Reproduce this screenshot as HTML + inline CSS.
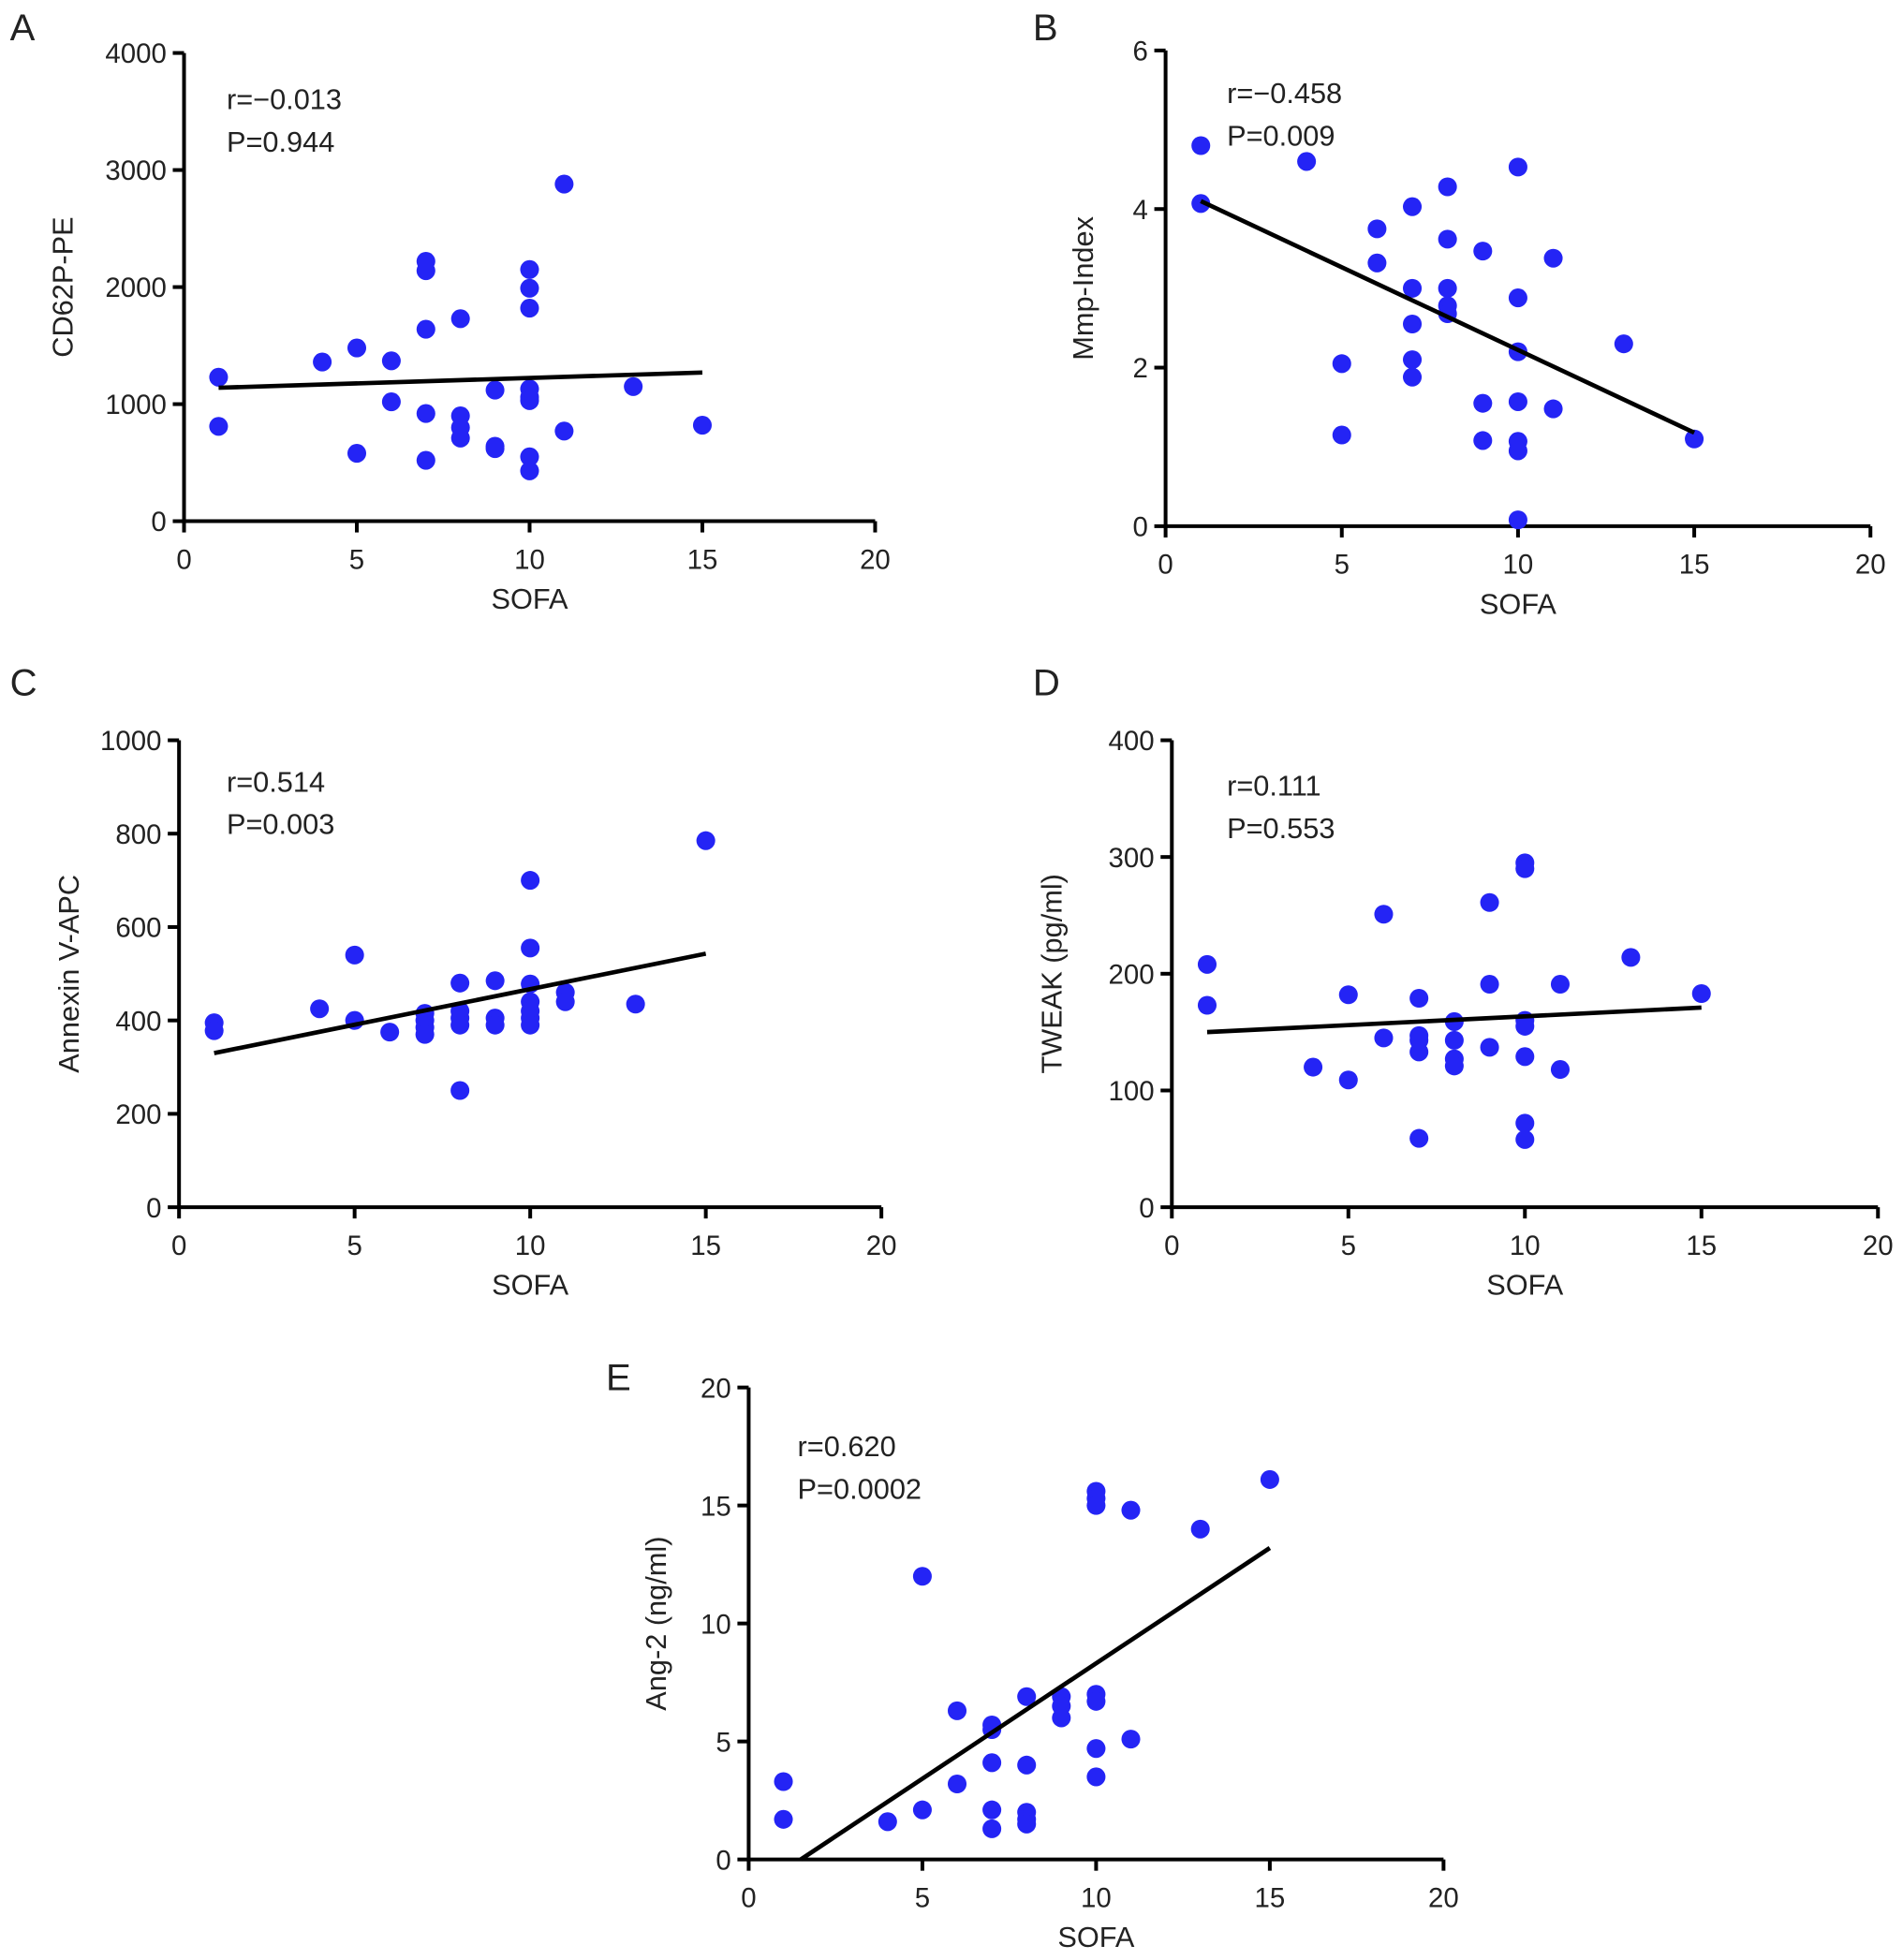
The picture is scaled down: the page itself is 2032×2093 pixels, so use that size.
<!DOCTYPE html>
<html><head><meta charset="utf-8">
<style>
html,body{margin:0;padding:0;background:#fff;}
svg{display:block;}
text{font-family:"Liberation Sans",Arial,sans-serif;fill:#222;}
</style></head>
<body>
<svg id="chart" width="2032" height="2093" viewBox="0 0 1520 1565" xmlns="http://www.w3.org/2000/svg"></svg>
<script>
// Panel A data
const aX=[1,1,4,5,5,6,6,7,7,7,7,7,8,8,8,8,9,9,9,10,10,10,10,10,10,10,10,11,11,13,15];
const aY=[1230,810,1360,1480,580,1370,1020,2220,2140,1640,920,520,1730,900,800,710,1120,640,620,2150,1990,1820,1130,1060,1030,550,430,2880,770,1150,820];
const aLine=[[1,1140],[15,1270]];
const aTicks=[0,1000,2000,3000,4000];
// Panel B data
const bX=[1,1,4,5,5,6,6,7,7,7,7,7,8,8,8,8,8,9,9,9,10,10,10,10,10,10,10,11,11,13,15];
const bY=[4.8,4.07,4.6,2.05,1.15,3.75,3.32,4.03,3.0,2.55,2.1,1.88,4.28,3.62,3.0,2.78,2.68,3.47,1.55,1.08,4.53,2.88,2.2,1.57,1.07,0.95,0.08,3.38,1.48,2.3,1.1];
const bLine=[[1,4.1],[15,1.18]];
const bTicks=[0,2,4,6];
// Panel C data
const cX=[1,1,4,5,5,6,7,7,7,7,8,8,8,8,8,9,9,9,10,10,10,10,10,10,10,11,11,13,15];
const cY=[395,378,425,540,400,375,415,400,385,370,480,420,405,390,250,485,405,390,700,555,478,440,420,405,390,460,440,435,785];
const cLine=[[1,330],[15,543]];
const cTicks=[0,200,400,600,800,1000];
// Panel D data
const dX=[1,1,4,5,5,6,6,7,7,7,7,7,8,8,8,8,9,9,9,10,10,10,10,10,10,10,11,11,13,15];
const dY=[208,173,120,182,109,251,145,179,147,143,133,59,159,143,127,121,261,191,137,295,290,160,155,129,72,58,191,118,214,183];
const dLine=[[1,150],[15,171]];
const dTicks=[0,100,200,300,400];
// Panel E data
const eX=[1,1,4,5,5,6,6,7,7,7,7,7,8,8,8,8,8,9,9,9,10,10,10,10,10,10,10,11,11,13,15];
const eY=[3.3,1.7,1.6,12,2.1,6.3,3.2,5.7,5.5,4.1,2.1,1.3,6.9,4.0,2.0,1.7,1.5,6.9,6.5,6.0,15.6,15.3,15.0,7.0,6.7,4.7,3.5,14.8,5.1,14.0,16.1];
const eLine=[[1.5,0],[15,13.2]];
const eTicks=[0,5,10,15,20];
const xTicks=[0,5,10,15,20];

const NS="http://www.w3.org/2000/svg";
const svg=document.getElementById('chart');
function mk(tag,attrs,parent){const e=document.createElementNS(NS,tag);for(const k in attrs)e.setAttribute(k,attrs[k]);(parent||svg).appendChild(e);return e;}

function panel(id,cfg,xs,ys,line,yTicks){
  const g=mk('g',{});
  
  
  const x=v=>cfg.x0+(cfg.x1-cfg.x0)*v/20;
  const y=v=>cfg.y0-(cfg.y0-cfg.y1)*v/cfg.ymax;
  const ax=mk('path',{d:`M${cfg.x0},${cfg.y1} L${cfg.x0},${cfg.y0} L${cfg.x1},${cfg.y0}`,stroke:'#000','stroke-width':3,fill:'none'},g);
  
  
  xTicks.forEach(t=>{
    mk('line',{x1:x(t),x2:x(t),y1:cfg.y0,y2:cfg.y0+9,stroke:'#000','stroke-width':3},g);
    const tx=mk('text',{x:x(t),y:cfg.y0+38,'text-anchor':'middle','font-size':22},g);tx.textContent=t;
    
    
  });
  yTicks.forEach(t=>{
    mk('line',{x1:cfg.x0-9,x2:cfg.x0,y1:y(t),y2:y(t),stroke:'#000','stroke-width':3},g);
    const tx=mk('text',{x:cfg.x0-14,y:y(t)+8,'text-anchor':'end','font-size':22},g);tx.textContent=t;
    
    
  });
  const xl=mk('text',{x:(cfg.x0+cfg.x1)/2,y:cfg.y0+70,'text-anchor':'middle','font-size':23},g);xl.textContent='SOFA';
  
  
  const yl=mk('text',{x:0,y:0,'text-anchor':'middle','font-size':23,transform:`translate(${cfg.ylx},${(cfg.y0+cfg.y1)/2}) rotate(-90)`},g);yl.textContent=cfg.ylabel;
  
  
  const pl=mk('text',{x:cfg.lx,y:cfg.ly,'font-size':30},g);pl.textContent=id;
  
  
  const s1=mk('text',{x:cfg.sx,y:cfg.sy,'font-size':23},g);s1.textContent=cfg.r;
  
  
  const s2=mk('text',{x:cfg.sx,y:cfg.sy+34,'font-size':23},g);s2.textContent=cfg.p;
  
  
  xs.forEach((v,i)=>{
    const c=mk('circle',{cx:x(v),cy:y(ys[i]),r:7.5,fill:'#2424f5'},g);
    
    
  });
  const ln=mk('line',{x1:x(line[0][0]),y1:y(line[0][1]),x2:x(line[1][0]),y2:y(line[1][1]),stroke:'#000','stroke-width':3.5},g);
  
  
}
panel('A',{x0:147,x1:699,y0:416,y1:42,ymax:4000,ylabel:'CD62P-PE',ylx:58,lx:8,ly:32,sx:181,sy:87,r:'r=\u22120.013',p:'P=0.944'},aX,aY,aLine,aTicks);
panel('B',{x0:931,x1:1494,y0:420,y1:40,ymax:6,ylabel:'Mmp-Index',ylx:873,lx:825,ly:32,sx:980,sy:82,r:'r=\u22120.458',p:'P=0.009'},bX,bY,bLine,bTicks);
panel('C',{x0:143,x1:704,y0:964,y1:591,ymax:1000,ylabel:'Annexin V-APC',ylx:63,lx:8,ly:555,sx:181,sy:632,r:'r=0.514',p:'P=0.003'},cX,cY,cLine,cTicks);
panel('D',{x0:936,x1:1500,y0:964,y1:591,ymax:400,ylabel:'TWEAK (pg/ml)',ylx:848,lx:825,ly:555,sx:980,sy:635,r:'r=0.111',p:'P=0.553'},dX,dY,dLine,dTicks);
panel('E',{x0:598,x1:1153,y0:1485,y1:1108,ymax:20,ylabel:'Ang-2 (ng/ml)',ylx:532,lx:484,ly:1110,sx:637,sy:1163,r:'r=0.620',p:'P=0.0002'},eX,eY,eLine,eTicks);
</script>
</body></html>
